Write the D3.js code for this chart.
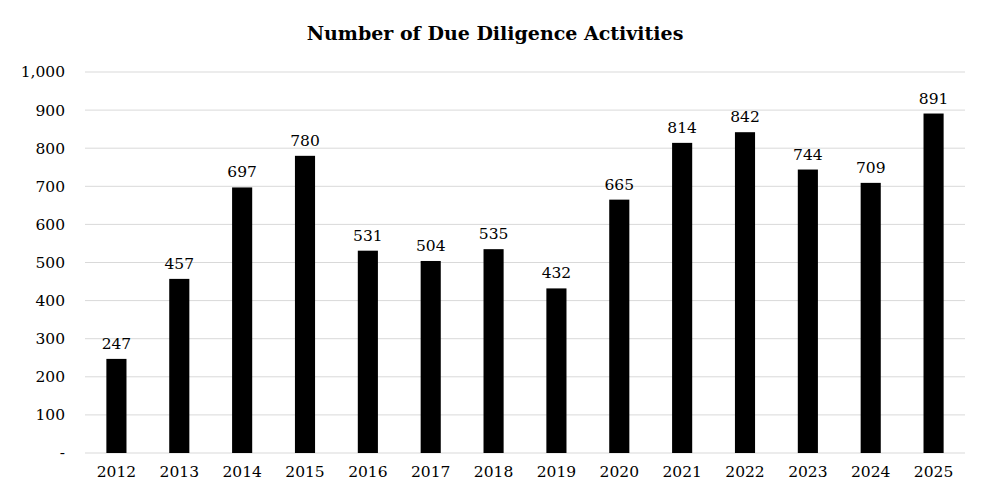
<!DOCTYPE html>
<meta charset="utf-8">
<style>
body { margin: 0; background: white; }
svg { display: block; }
text { font-family: "DejaVu Serif", "Liberation Serif", serif; fill: #000; }
.title { font-size: 19px; font-weight: bold; text-anchor: middle; }
.tick text { font-size: 15.5px; }
.amount { font-size: 15.5px; text-anchor: middle; }
</style>
<body>
<script src="https://d3js.org/d3.v7.min.js"></script>
<script>
// chart data
var years = ["2012","2013","2014","2015","2016","2017","2018","2019","2020","2021","2022","2023","2024","2025"];
var counts = [247, 457, 697, 780, 531, 504, 535, 432, 665, 814, 842, 744, 709, 891];
var yTicks = [0, 100, 200, 300, 400, 500, 600, 700, 800, 900, 1000];

var width = 988, height = 502;
var margin = {top: 72, right: 23, bottom: 49, left: 85};
var innerW = width - margin.left - margin.right,
    innerH = height - margin.top - margin.bottom;

var svg = d3.select("body").append("svg")
    .attr("width", width)
    .attr("height", height);

svg.append("text")
    .attr("class", "title")
    .attr("x", 495)
    .attr("y", 40)
    .text("Number of Due Diligence Activities");

var g = svg.append("g")
    .attr("transform", "translate(" + margin.left + "," + margin.top + ")");

var x = d3.scaleBand().domain(years).range([0, innerW]).paddingInner(0.68).paddingOuter(0.34);
var y = d3.scaleLinear().domain([0, 1000]).range([innerH, 0]);

// gridlines
g.selectAll(".grid")
    .data(yTicks)
    .enter().append("line")
    .attr("x1", 0).attr("x2", innerW)
    .attr("y1", function(d) { return y(d); })
    .attr("y2", function(d) { return y(d); })
    .attr("stroke", "#d9d9d9")
    .attr("stroke-width", 1);

// y axis
var yAxis = g.append("g")
    .call(d3.axisLeft(y).tickValues(yTicks).tickSize(0).tickPadding(20)
      .tickFormat(function(d) { return d === 0 ? "-" : d3.format(",")(d); }));
yAxis.select(".domain").remove();

// x axis
var xAxis = g.append("g")
    .attr("transform", "translate(0," + innerH + ")")
    .call(d3.axisBottom(x).tickSize(0).tickPadding(13));
xAxis.select(".domain").remove();

g.selectAll(".bar")
    .data(years)
    .enter().append("rect")
    .attr("class", "bar")
    .attr("x", function(d) { return x(d); })
    .attr("width", x.bandwidth())
    .attr("y", function(d, i) { return y(counts[i]); })
    .attr("height", function(d, i) { return innerH - y(counts[i]); })
    .attr("fill", "#000");

g.selectAll(".amount")
    .data(years)
    .enter().append("text")
    .attr("class", "amount")
    .attr("x", function(d) { return x(d) + x.bandwidth() / 2; })
    .attr("y", function(d, i) { return y(counts[i]) - 10; })
    .text(function(d, i) { return counts[i]; });
</script>
</body>
